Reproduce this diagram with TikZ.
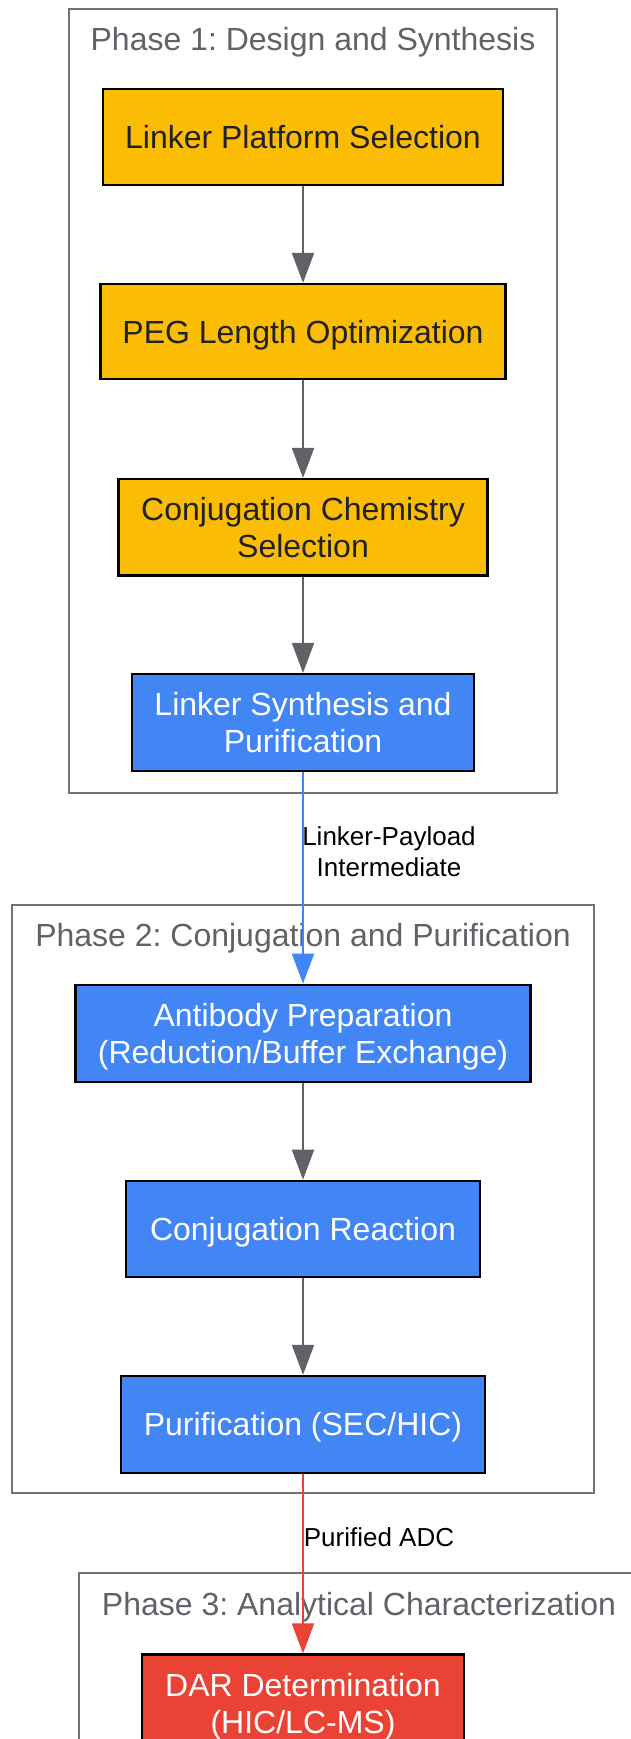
\documentclass[tikz,border=0pt]{standalone}
\usepackage{fontspec}
\setmainfont{Liberation Sans}
\usetikzlibrary{arrows.meta}
\definecolor{gy}{HTML}{FBBC04}
\definecolor{gb}{HTML}{4285F4}
\definecolor{gr}{HTML}{EA4335}
\definecolor{gg}{HTML}{5F6368}
\definecolor{dk}{HTML}{202124}
\frenchspacing
\begin{document}
\begin{tikzpicture}[x=1pt,y=-1pt,
 cluster/.style={draw=gg!90, line width=2pt, fill=white},
 ttl/.style={text=gg, font=\fontsize{32}{37}\selectfont, anchor=center, inner sep=0pt, text depth=0pt},
 proc/.style={draw=black, line width=2.2pt, align=center, font=\fontsize{32}{37}\selectfont, inner sep=0pt, text depth=0pt},
 yel/.style={proc, fill=gy, text=dk},
 blu/.style={proc, fill=gb, text=white},
 rednode/.style={proc, fill=gr, text=white},
 flow/.style={line width=2pt, -{Triangle[length=30pt,width=22pt]}},
 elab/.style={font=\fontsize{26}{31}\selectfont, align=center, text=black, inner sep=0pt}]
\useasboundingbox (0,0) rectangle (631,1739);
% clusters
\draw[cluster] (69,9) rectangle (557,793);
\draw[cluster] (12,905) rectangle (594,1493);
\draw[cluster] (79,1572.5) rectangle (650,1770);
% titles
\node[ttl] (t1) at (313,38.8) {Phase 1: Design and Synthesis};
\node[ttl] (t2) at (303,935) {Phase 2: Conjugation and Purification};
\node[ttl] (t3) at (359,1603.5) {Phase 3: Analytical Characterization};
% nodes
\node[yel, minimum width=400pt, minimum height=96pt] (n1) at (303,137) {Linker Platform Selection};
\node[yel, minimum width=405pt, minimum height=95pt] (n2) at (303,331.5) {PEG Length Optimization};
\node[yel, minimum width=369pt, minimum height=96.5pt] (n3) at (303,527.3) {Conjugation Chemistry\\Selection};
\node[blu, minimum width=341.5pt, minimum height=96.7pt] (n4) at (303,722.4) {Linker Synthesis and\\Purification};
\node[blu, minimum width=455pt, minimum height=97.5pt] (n5) at (303,1033.5) {Antibody Preparation\\(Reduction/Buffer Exchange)};
\node[blu, minimum width=354pt, minimum height=96.5pt] (n6) at (303,1229) {Conjugation Reaction};
\node[blu, minimum width=364pt, minimum height=96.7pt] (n7) at (303,1424.3) {Purification (SEC/HIC)};
\node[rednode, minimum width=321.5pt, minimum height=97pt] (n8) at (303,1703) {DAR Determination\\(HIC/LC-MS)};
% edges
\draw[flow, gg] (n1) -- (n2);
\draw[flow, gg] (n2) -- (n3);
\draw[flow, gg] (n3) -- (n4);
\draw[flow, gb] (n4) -- (n5);
\draw[flow, gg] (n5) -- (n6);
\draw[flow, gg] (n6) -- (n7);
\draw[flow, gr] (n7) -- (n8);
% edge labels
\node[elab] (l1) at (389,851.5) {Linker-Payload\\Intermediate};
\node[elab] (l2) at (379,1537) {Purified ADC};
\end{tikzpicture}
\end{document}
